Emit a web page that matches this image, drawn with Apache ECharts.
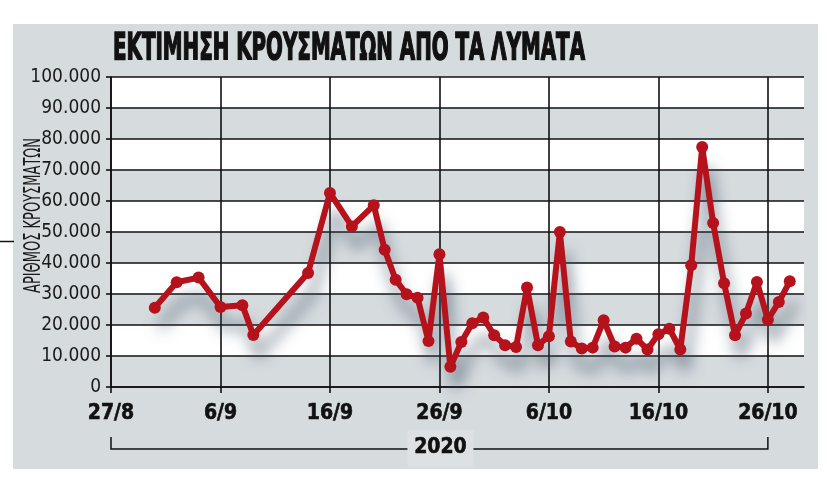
<!DOCTYPE html>
<html><head><meta charset="utf-8">
<script src="https://cdn.jsdelivr.net/npm/echarts@6/dist/echarts.min.js"></script>
<style>html,body{margin:0;padding:0;background:#fff}#c{width:827px;height:477px}</style>
</head><body><div id="c"></div>
<script>
// ---- data ----
const titleText = 'ΕΚΤΙΜΗΣΗ ΚΡΟΥΣΜΑΤΩΝ ΑΠΟ ΤΑ ΛΥΜΑΤΑ';
const yAxisTitle = 'ΑΡΙΘΜΟΣ ΚΡΟΥΣΜΑΤΩΝ';
const yearLabel = '2020';
const startDate = '2020-08-27';
const endDate = '2020-10-29T07:12:00Z';
const dates = [
  '2020-08-31','2020-09-02','2020-09-04','2020-09-06','2020-09-08','2020-09-09',
  '2020-09-14','2020-09-16','2020-09-18','2020-09-20','2020-09-21','2020-09-22',
  '2020-09-23','2020-09-24','2020-09-25','2020-09-26','2020-09-27','2020-09-28',
  '2020-09-29','2020-09-30','2020-10-01','2020-10-02','2020-10-03','2020-10-04',
  '2020-10-05','2020-10-06','2020-10-07','2020-10-08','2020-10-09','2020-10-10',
  '2020-10-11','2020-10-12','2020-10-13','2020-10-14','2020-10-15','2020-10-16',
  '2020-10-17','2020-10-18','2020-10-19','2020-10-20','2020-10-21','2020-10-22',
  '2020-10-23','2020-10-24','2020-10-25','2020-10-26','2020-10-27','2020-10-28'
];
const cases = [
  25600, 33800, 35300, 25800, 26400, 16800,
  36800, 62600, 51800, 58600, 44300, 34600,
  29900, 28800, 14800, 42800, 6500, 14500,
  20600, 22400, 16700, 13500, 12900, 32100,
  13500, 16400, 50000, 14700, 12400, 12700,
  21500, 13100, 12700, 15600, 12100, 17000,
  18800, 12100, 39300, 77400, 52900, 33500,
  16700, 23700, 33900, 21700, 27400, 34100
];
const xTickDays = [0, 10, 20, 30, 40, 50, 60];
const xTickLabels = ['27/8', '6/9', '16/9', '26/9', '6/10', '16/10', '26/10'];
const yMin = 0, yMax = 100000, yStep = 10000;

// ---- helpers ----
const DAY = 86400000;
const t0 = Date.parse(startDate);
const dayIndex = s => (Date.parse(s) - t0) / DAY;
const fmtThousands = v => v === 0 ? '0' : String(v).replace(/\B(?=(\d{3})+(?!\d))/g, '.');
const COND = '"DejaVu Sans Condensed", "DejaVu Sans", sans-serif';
function textWidth(txt, font) {
  const c = document.createElement('canvas').getContext('2d');
  c.font = font; return c.measureText(txt).width;
}

const PANEL = '#d6dbde';
const RED = '#b5121b';

const chart = echarts.init(document.getElementById('c'), null, {renderer: 'canvas'});

const option = {
  animation: false,
  backgroundColor: '#ffffff',
  grid: {left: 111, top: 77, width: 693, height: 310, containLabel: false},
  xAxis: {
    type: 'value',
    min: 0,
    max: dayIndex(endDate),
    axisLine: {show: true, onZero: false, lineStyle: {color: '#111', width: 1.6}},
    axisTick: {show: true, customValues: xTickDays, length: 6, lineStyle: {color: '#111', width: 1.6}},
    axisLabel: {
      show: true, customValues: xTickDays, margin: 16,
      formatter: v => xTickLabels[xTickDays.indexOf(v)] || '',
      fontFamily: COND, fontWeight: 'bold', fontSize: 21, color: '#111',
      textBorderColor: '#111', textBorderWidth: 0.6
    },
    splitLine: {show: true, lineStyle: {color: '#111', width: 1.6}}
  },
  yAxis: {
    type: 'value',
    min: yMin, max: yMax, interval: yStep,
    axisLine: {show: true, lineStyle: {color: '#111', width: 1.6}},
    axisTick: {show: true, length: 5, lineStyle: {color: '#111', width: 1.6}},
    axisLabel: {
      margin: 10, formatter: fmtThousands,
      fontFamily: COND, fontSize: 19, color: '#1a1a1a'
    },
    splitLine: {show: true, lineStyle: {color: '#111', width: 1.6}},
    splitArea: {show: true, areaStyle: {color: [PANEL, '#ffffff']}}
  },
  series: [{
    type: 'line',
    data: dates.map((d, i) => [dayIndex(d), cases[i]]),
    clip: false,
    symbol: 'circle',
    symbolSize: 12,
    itemStyle: {color: RED},
    lineStyle: {
      color: RED, width: 6,
      shadowColor: 'rgba(60,80,100,0.7)', shadowBlur: 15,
      shadowOffsetX: 5, shadowOffsetY: 20
    },
    emphasis: {disabled: true},
    z: 5
  }]
};
chart.setOption(option);

// ---- decorations (panel, title, axis title, year bracket) ----
const titleFont = 'bold 38px ' + COND;
const titleScale = 472 / textWidth(titleText, titleFont);
const yTitleFont = '23px ' + COND;
const yTitleScale = 155 / textWidth(yAxisTitle, yTitleFont);
const xL = chart.convertToPixel({xAxisIndex: 0}, xTickDays[0]);
const xR = chart.convertToPixel({xAxisIndex: 0}, xTickDays[xTickDays.length - 1]);
const xM = chart.convertToPixel({xAxisIndex: 0}, xTickDays[3]);

chart.setOption({
  graphic: [
    {type: 'rect', z: -10, silent: true, shape: {x: 13, y: 24, width: 805, height: 445}, style: {fill: PANEL}},
    {type: 'line', silent: true, shape: {x1: 0, y1: 241.5, x2: 14, y2: 241.5}, style: {stroke: '#111', lineWidth: 1.5}},
    {type: 'text', silent: true, x: 113, y: 49, scaleX: titleScale,
      style: {text: titleText, font: titleFont, fill: '#111', stroke: '#111', lineWidth: 1.6,
        verticalAlign: 'middle', align: 'left'}},
    {type: 'text', silent: true, x: 34.5, y: 215.5, rotation: Math.PI / 2, scaleX: yTitleScale,
      style: {text: yAxisTitle, font: yTitleFont, fill: '#1a1a1a', align: 'center', verticalAlign: 'middle'}},
    {type: 'polyline', silent: true, shape: {points: [[xL, 437], [xL, 449], [xR, 449], [xR, 437]]},
      style: {stroke: '#111', lineWidth: 1.5, fill: null}},
    {type: 'rect', silent: true, shape: {x: xM - 32, y: 430, width: 66, height: 37}, style: {fill: '#dde1e3'}},
    {type: 'text', silent: true, x: xM + 1, y: 448,
      style: {text: yearLabel, font: 'bold 21px ' + COND, fill: '#111', stroke: '#111', lineWidth: 0.6,
        align: 'center', verticalAlign: 'middle'}}
  ]
});
</script>
</body></html>
